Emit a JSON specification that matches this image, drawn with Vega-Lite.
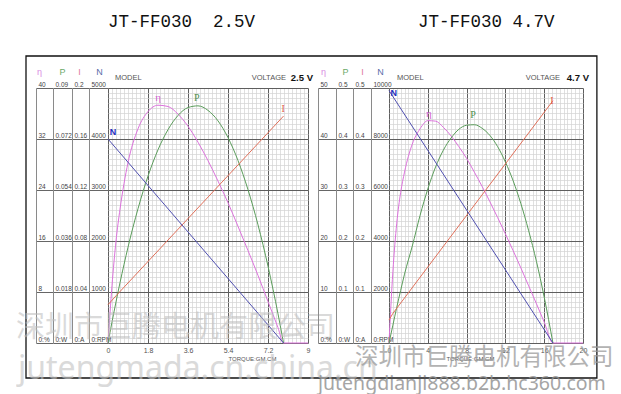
{
 "$schema": "https://vega.github.io/schema/vega-lite/v6.json",
 "background": "white",
 "padding": {"left": 16, "top": 12, "right": 0, "bottom": 0},
 "bounds": "flush",
 "spacing": 81,
 "config": {"view": {"stroke": null}, "font": "Liberation Sans"},
 "datasets": {
  "p1": [
   {"s":"eta","T":0,"v":0},{"s":"eta","T":0.18,"v":9},{"s":"eta","T":0.36,"v":16},{"s":"eta","T":0.54,"v":21},{"s":"eta","T":0.72,"v":25},{"s":"eta","T":0.9,"v":28.3},{"s":"eta","T":1.35,"v":33.6},{"s":"eta","T":1.8,"v":36.3},{"s":"eta","T":2.25,"v":37.3},{"s":"eta","T":2.7,"v":37.1},{"s":"eta","T":3.15,"v":35.9},{"s":"eta","T":3.6,"v":34},{"s":"eta","T":4.05,"v":31.5},{"s":"eta","T":4.5,"v":28.6},{"s":"eta","T":4.95,"v":25.4},{"s":"eta","T":5.4,"v":22},{"s":"eta","T":5.85,"v":18.3},{"s":"eta","T":6.3,"v":14.5},{"s":"eta","T":6.75,"v":10.6},{"s":"eta","T":7.2,"v":6.5},{"s":"eta","T":7.65,"v":2.4},{"s":"eta","T":7.9,"v":0},{"s":"eta","T":9,"v":0},
   {"s":"P","T":0,"v":0},{"s":"P","T":0.18,"v":0.0074},{"s":"P","T":0.36,"v":0.0145},{"s":"P","T":0.54,"v":0.0213},{"s":"P","T":0.72,"v":0.0277},{"s":"P","T":0.9,"v":0.0338},{"s":"P","T":1.35,"v":0.0474},{"s":"P","T":1.8,"v":0.0589},{"s":"P","T":2.25,"v":0.0682},{"s":"P","T":2.7,"v":0.0753},{"s":"P","T":3.15,"v":0.0803},{"s":"P","T":3.6,"v":0.0831},{"s":"P","T":4.05,"v":0.0837},{"s":"P","T":4.5,"v":0.0821},{"s":"P","T":4.95,"v":0.0784},{"s":"P","T":5.4,"v":0.0725},{"s":"P","T":5.85,"v":0.0644},{"s":"P","T":6.3,"v":0.0541},{"s":"P","T":6.75,"v":0.0417},{"s":"P","T":7.2,"v":0.0271},{"s":"P","T":7.65,"v":0.0103},{"s":"P","T":7.9,"v":0},
   {"s":"I","T":0,"v":0.03},{"s":"I","T":0.36,"v":0.037},{"s":"I","T":7.9,"v":0.178},
   {"s":"N","T":0,"v":4000},{"s":"N","T":7.9,"v":0}
  ],
  "p2": [
   {"s":"eta","T":0,"v":0},{"s":"eta","T":0.4,"v":14},{"s":"eta","T":0.8,"v":23.5},{"s":"eta","T":1.2,"v":29.5},{"s":"eta","T":1.6,"v":33.5},{"s":"eta","T":2.4,"v":39},{"s":"eta","T":3.2,"v":42},{"s":"eta","T":4,"v":43.6},{"s":"eta","T":4.8,"v":43.5},{"s":"eta","T":5.6,"v":42.3},{"s":"eta","T":6.4,"v":40.6},{"s":"eta","T":7.2,"v":38.5},{"s":"eta","T":8,"v":36.2},{"s":"eta","T":8.8,"v":33.5},{"s":"eta","T":9.6,"v":30.7},{"s":"eta","T":10.4,"v":27.7},{"s":"eta","T":11.2,"v":24.6},{"s":"eta","T":12,"v":21.4},{"s":"eta","T":12.8,"v":18.1},{"s":"eta","T":13.6,"v":14.7},{"s":"eta","T":14.4,"v":11.2},{"s":"eta","T":15.2,"v":7.7},{"s":"eta","T":16,"v":4.1},{"s":"eta","T":16.9,"v":0},{"s":"eta","T":20,"v":0},
   {"s":"P","T":0,"v":0},{"s":"P","T":0.4,"v":0.035},{"s":"P","T":0.8,"v":0.07},{"s":"P","T":1.2,"v":0.103},{"s":"P","T":1.6,"v":0.135},{"s":"P","T":2.4,"v":0.19},{"s":"P","T":3.2,"v":0.25},{"s":"P","T":4,"v":0.302},{"s":"P","T":4.8,"v":0.345},{"s":"P","T":5.6,"v":0.378},{"s":"P","T":6.4,"v":0.402},{"s":"P","T":7.2,"v":0.419},{"s":"P","T":8,"v":0.427},{"s":"P","T":8.8,"v":0.428},{"s":"P","T":9.6,"v":0.421},{"s":"P","T":10.4,"v":0.407},{"s":"P","T":11.2,"v":0.385},{"s":"P","T":12,"v":0.355},{"s":"P","T":12.8,"v":0.318},{"s":"P","T":13.6,"v":0.273},{"s":"P","T":14.4,"v":0.22},{"s":"P","T":15.2,"v":0.16},{"s":"P","T":16,"v":0.09},{"s":"P","T":16.9,"v":0},
   {"s":"I","T":0,"v":0.045},{"s":"I","T":0.4,"v":0.058},{"s":"I","T":16.9,"v":0.4751},
   {"s":"N","T":0,"v":9900},{"s":"N","T":16.9,"v":0}
  ]
 },
 "hconcat": [
  {
   "width": 200, "height": 255,
   "layer": [
    {
     "data": {"values": [{}]},
     "mark": {"type": "rect", "fill": "white", "fillOpacity": 0, "stroke": "#111111", "strokeWidth": 1.3, "clip": false},
     "encoding": {
      "x": {"datum": -3.69, "type": "quantitative", "scale": {"domain": [0, 9], "nice": false, "zero": false},
       "axis": {"orient": "bottom", "values": [0,0.18,0.36,0.54,0.72,0.9,1.08,1.26,1.44,1.62,1.8,1.98,2.16,2.34,2.52,2.7,2.88,3.06,3.24,3.42,3.6,3.78,3.96,4.14,4.32,4.5,4.68,4.86,5.04,5.22,5.4,5.58,5.76,5.94,6.12,6.3,6.48,6.66,6.84,7.02,7.2,7.38,7.56,7.74,7.92,8.1,8.28,8.46,8.64,8.82,9],
        "grid": true, "gridColor": "#d2d2d2", "gridWidth": 0.7, "domain": false, "ticks": false, "labels": false, "title": null}},
      "x2": {"datum": 22.0},
      "y": {"datum": 45.02, "type": "quantitative", "scale": {"domain": [0, 40], "nice": false, "zero": false},
       "axis": {"orient": "left", "values": [0,0.8,1.6,2.4,3.2,4,4.8,5.6,6.4,7.2,8,8.8,9.6,10.4,11.2,12,12.8,13.6,14.4,15.2,16,16.8,17.6,18.4,19.2,20,20.8,21.6,22.4,23.2,24,24.8,25.6,26.4,27.2,28,28.8,29.6,30.4,31.2,32,32.8,33.6,34.4,35.2,36,36.8,37.6,38.4,39.2,40],
        "grid": true, "gridColor": "#d2d2d2", "gridWidth": 0.7, "domain": false, "ticks": false, "labels": false, "title": null}},
      "y2": {"datum": -5.49}
     }
    },
    {
     "data": {"values": [{}]},
     "mark": {"type": "text", "text": "MODEL", "align": "left", "baseline": "middle", "font": "Liberation Sans Narrow, Liberation Sans, sans-serif", "fontSize": 7.5, "color": "#555555", "clip": false},
     "encoding": {
      "x": {"datum": 0.315, "type": "quantitative", "scale": {"domain": [0, 9], "nice": false, "zero": false},
       "axis": {"orient": "bottom", "values": [0,1.8,3.6,5.4,7.2,9], "grid": true, "gridColor": "#5e5e5e", "gridWidth": 1, "domain": false, "ticks": false,
        "labelExpr": "toString(datum.value)", "labelFlush": false, "labelOverlap": false, "labelPadding": 3, "labelFontSize": 7, "labelColor": "#555555", "labelFont": "Liberation Sans Narrow, Liberation Sans, sans-serif",
        "title": "TORQUE:GM.CM", "titleFontSize": 6, "titleFontWeight": "normal", "titleColor": "#555555", "titleFont": "Liberation Sans Narrow, Liberation Sans, sans-serif", "titleX": 144, "titleY": 12, "titleAlign": "center", "titleBaseline": "top"}},
      "y": {"datum": 41.57, "type": "quantitative", "scale": {"domain": [0, 40], "nice": false, "zero": false},
       "axis": {"orient": "left", "values": [0,8,16,24,32,40], "grid": true, "gridColor": "#5e5e5e", "gridWidth": 1, "domain": false, "ticks": false, "labels": false, "title": null}}
     }
    },
    {
     "data": {"values": [{}]},
     "mark": {"type": "text", "text": "JT-FF030\u00a0\u00a02.5V", "align": "left", "baseline": "top", "font": "Liberation Mono", "fontSize": 17.5, "color": "#111111", "clip": false},
     "encoding": {"x": {"datum": 0, "type": "quantitative", "scale": {"domain": [0, 9], "nice": false, "zero": false}, "axis": null}, "y": {"datum": 51.76, "type": "quantitative", "scale": {"domain": [0, 40], "nice": false, "zero": false}, "axis": null}}
    },
    {
     "data": {"values": [{}]},
     "mark": {"type": "text", "text": "VOLTAGE", "align": "right", "baseline": "middle", "font": "Liberation Sans Narrow, Liberation Sans, sans-serif", "fontSize": 7.5, "color": "#555555", "clip": false},
     "encoding": {"x": {"datum": 8.01, "type": "quantitative", "scale": {"domain": [0, 9], "nice": false, "zero": false}, "axis": null}, "y": {"datum": 41.57, "type": "quantitative", "scale": {"domain": [0, 40], "nice": false, "zero": false}, "axis": null}}
    },
    {
     "data": {"values": [{}]},
     "mark": {"type": "text", "text": "2.5 V", "align": "right", "baseline": "middle", "font": "Liberation Sans", "fontWeight": "bold", "fontSize": 9.5, "color": "#111111", "clip": false},
     "encoding": {"x": {"datum": 9.225, "type": "quantitative", "scale": {"domain": [0, 9], "nice": false, "zero": false}, "axis": null}, "y": {"datum": 41.57, "type": "quantitative", "scale": {"domain": [0, 40], "nice": false, "zero": false}, "axis": null}}
    },
    {
     "data": {"name": "p1"}, "transform": [{"filter": "datum.s == 'eta'"}],
     "mark": {"type": "line", "color": "#dc72dc", "strokeWidth": 1, "interpolate": "monotone"},
     "encoding": {
      "x": {"field": "T", "type": "quantitative", "scale": {"domain": [0, 9], "nice": false, "zero": false}, "axis": null},
      "y": {"field": "v", "type": "quantitative", "scale": {"domain": [0, 40], "nice": false, "zero": false},
       "axis": {"orient": "left", "offset": 72, "values": [0,8,16,24,32,40], "grid": false, "domain": true, "domainColor": "#8a8a8a", "domainWidth": 1, "ticks": true, "tickSize": -17, "tickColor": "#666666", "tickWidth": 1, "labelAlign": "left", "labelBaseline": "bottom", "labelPadding": 15, "labelOffset": -0.5, "labelFontSize": 6.5, "labelColor": "#444444", "labelFont": "Liberation Sans Narrow, Liberation Sans, sans-serif", "labelExpr": "datum.value == 0 ? '0:%' : toString(datum.value)", "title": "η", "titleAngle": 0, "titleAlign": "center", "titleBaseline": "middle", "titleX": 3, "titleY": -17, "titleColor": "#d98ae3", "titleFontSize": 9, "titleFontWeight": "normal"}}
     }
    },
    {
     "data": {"values": [{}]},
     "mark": {"type": "text", "text": "η", "font": "Liberation Serif", "fontSize": 11, "color": "#d35fd3", "baseline": "middle", "clip": false},
     "encoding": {"x": {"datum": 2.25, "type": "quantitative", "scale": {"domain": [0, 9], "nice": false, "zero": false}, "axis": null}, "y": {"datum": 38.4, "type": "quantitative", "scale": {"domain": [0, 40], "nice": false, "zero": false}, "axis": null}}
    },
    {
     "data": {"name": "p1"}, "transform": [{"filter": "datum.s == 'P'"}],
     "mark": {"type": "line", "color": "#5a9c5a", "strokeWidth": 1, "interpolate": "monotone"},
     "encoding": {
      "x": {"field": "T", "type": "quantitative", "scale": {"domain": [0, 9], "nice": false, "zero": false}, "axis": null},
      "y": {"field": "v", "type": "quantitative", "scale": {"domain": [0, 0.09], "nice": false, "zero": false},
       "axis": {"orient": "left", "offset": 55, "values": [0,0.018,0.036,0.054,0.072,0.09], "grid": false, "domain": true, "domainColor": "#8a8a8a", "domainWidth": 1, "ticks": true, "tickSize": -19, "tickColor": "#666666", "tickWidth": 1, "labelAlign": "left", "labelBaseline": "bottom", "labelPadding": 17, "labelOffset": -0.5, "labelFontSize": 6.5, "labelColor": "#444444", "labelFont": "Liberation Sans Narrow, Liberation Sans, sans-serif", "labelExpr": "datum.value == 0 ? '0:W' : toString(datum.value)", "title": "P", "titleAngle": 0, "titleAlign": "center", "titleBaseline": "middle", "titleX": 9, "titleY": -17, "titleColor": "#6aaa6a", "titleFontSize": 9, "titleFontWeight": "normal"}}
     }
    },
    {
     "data": {"values": [{}]},
     "mark": {"type": "text", "text": "P", "font": "Liberation Serif", "fontSize": 10, "color": "#4f8f4f", "baseline": "middle", "clip": false},
     "encoding": {"x": {"datum": 4.0, "type": "quantitative", "scale": {"domain": [0, 9], "nice": false, "zero": false}, "axis": null}, "y": {"datum": 0.0865, "type": "quantitative", "scale": {"domain": [0, 0.09], "nice": false, "zero": false}, "axis": null}}
    },
    {
     "data": {"name": "p1"}, "transform": [{"filter": "datum.s == 'I'"}],
     "mark": {"type": "line", "color": "#e0705a", "strokeWidth": 1},
     "encoding": {
      "x": {"field": "T", "type": "quantitative", "scale": {"domain": [0, 9], "nice": false, "zero": false}, "axis": null},
      "y": {"field": "v", "type": "quantitative", "scale": {"domain": [0, 0.2], "nice": false, "zero": false},
       "axis": {"orient": "left", "offset": 36, "values": [0,0.04,0.08,0.12,0.16,0.2], "grid": false, "domain": true, "domainColor": "#8a8a8a", "domainWidth": 1, "ticks": true, "tickSize": -17, "tickColor": "#666666", "tickWidth": 1, "labelAlign": "left", "labelBaseline": "bottom", "labelPadding": 15, "labelOffset": -0.5, "labelFontSize": 6.5, "labelColor": "#444444", "labelFont": "Liberation Sans Narrow, Liberation Sans, sans-serif", "labelExpr": "datum.value == 0 ? '0:A' : toString(datum.value)", "title": "I", "titleAngle": 0, "titleAlign": "center", "titleBaseline": "middle", "titleX": 7, "titleY": -17, "titleColor": "#e07aa0", "titleFontSize": 9, "titleFontWeight": "normal"}}
     }
    },
    {
     "data": {"values": [{}]},
     "mark": {"type": "text", "text": "I", "font": "Liberation Serif", "fontSize": 10, "color": "#e0604a", "baseline": "middle", "clip": false},
     "encoding": {"x": {"datum": 7.88, "type": "quantitative", "scale": {"domain": [0, 9], "nice": false, "zero": false}, "axis": null}, "y": {"datum": 0.1835, "type": "quantitative", "scale": {"domain": [0, 0.2], "nice": false, "zero": false}, "axis": null}}
    },
    {
     "data": {"name": "p1"}, "transform": [{"filter": "datum.s == 'N'"}],
     "mark": {"type": "line", "color": "#5050b0", "strokeWidth": 1},
     "encoding": {
      "x": {"field": "T", "type": "quantitative", "scale": {"domain": [0, 9], "nice": false, "zero": false}, "axis": null},
      "y": {"field": "v", "type": "quantitative", "scale": {"domain": [0, 5000], "nice": false, "zero": false},
       "axis": {"orient": "left", "offset": 19, "values": [0,1000,2000,3000,4000,5000], "grid": false, "domain": true, "domainColor": "#8a8a8a", "domainWidth": 1, "ticks": true, "tickSize": -19, "tickColor": "#666666", "tickWidth": 1, "labelAlign": "left", "labelBaseline": "bottom", "labelPadding": 17, "labelOffset": -0.5, "labelFontSize": 6.5, "labelColor": "#444444", "labelFont": "Liberation Sans Narrow, Liberation Sans, sans-serif", "labelExpr": "datum.value == 0 ? '0:RPM' : toString(datum.value)", "title": "N", "titleAngle": 0, "titleAlign": "center", "titleBaseline": "middle", "titleX": 10, "titleY": -17, "titleColor": "#5a6aa8", "titleFontSize": 9, "titleFontWeight": "normal"}}
     }
    },
    {
     "data": {"values": [{}]},
     "mark": {"type": "text", "text": "N", "font": "Liberation Sans", "fontWeight": "bold", "fontSize": 9, "color": "#1f2fc0", "baseline": "middle", "clip": false},
     "encoding": {"x": {"datum": 0.23, "type": "quantitative", "scale": {"domain": [0, 9], "nice": false, "zero": false}, "axis": null}, "y": {"datum": 4137, "type": "quantitative", "scale": {"domain": [0, 5000], "nice": false, "zero": false}, "axis": null}}
    },
    {
     "data": {"values": [{}]},
     "mark": {"type": "text", "text": "深圳市巨腾电机有限公司", "align": "left", "baseline": "middle", "font": "Noto Sans CJK SC", "fontSize": 29, "color": "#bdbdbd", "opacity": 0.55, "clip": false},
     "encoding": {"x": {"datum": -4.14, "type": "quantitative", "scale": {"domain": [0, 9], "nice": false, "zero": false}, "axis": null}, "y": {"datum": 2.35, "type": "quantitative", "scale": {"domain": [0, 40], "nice": false, "zero": false}, "axis": null}}
    },
    {
     "data": {"values": [{}]},
     "mark": {"type": "text", "text": "jutengmada.cn.china.cn", "align": "left", "baseline": "alphabetic", "font": "Noto Sans", "fontSize": 32, "color": "#c2c2c2", "opacity": 0.6, "clip": false},
     "encoding": {"x": {"datum": -4.05, "type": "quantitative", "scale": {"domain": [0, 9], "nice": false, "zero": false}, "axis": null}, "y": {"datum": -5.65, "type": "quantitative", "scale": {"domain": [0, 40], "nice": false, "zero": false}, "axis": null}}
    }
   ],
   "resolve": {"scale": {"x": "independent", "y": "independent"}, "axis": {"x": "independent", "y": "independent"}}
  },
  {
   "width": 194, "height": 255,
   "layer": [
    {
     "data": {"values": [{}]},
     "mark": {"type": "text", "text": "JT-FF030\u00a04.7V", "align": "left", "baseline": "top", "font": "Liberation Mono", "fontSize": 17.5, "color": "#111111", "clip": false},
     "encoding": {
      "x": {"datum": 2.99, "type": "quantitative", "scale": {"domain": [0, 20], "nice": false, "zero": false},
       "axis": {"orient": "bottom", "values": [0,0.4,0.8,1.2,1.6,2,2.4,2.8,3.2,3.6,4,4.4,4.8,5.2,5.6,6,6.4,6.8,7.2,7.6,8,8.4,8.8,9.2,9.6,10,10.4,10.8,11.2,11.6,12,12.4,12.8,13.2,13.6,14,14.4,14.8,15.2,15.6,16,16.4,16.8,17.2,17.6,18,18.4,18.8,19.2,19.6,20],
        "grid": true, "gridColor": "#d2d2d2", "gridWidth": 0.7, "domain": false, "ticks": false, "labels": false, "title": null}},
      "y": {"datum": 64.71, "type": "quantitative", "scale": {"domain": [0, 50], "nice": false, "zero": false},
       "axis": {"orient": "left", "values": [0,1,2,3,4,5,6,7,8,9,10,11,12,13,14,15,16,17,18,19,20,21,22,23,24,25,26,27,28,29,30,31,32,33,34,35,36,37,38,39,40,41,42,43,44,45,46,47,48,49,50],
        "grid": true, "gridColor": "#d2d2d2", "gridWidth": 0.7, "domain": false, "ticks": false, "labels": false, "title": null}}
     }
    },
    {
     "data": {"values": [{}]},
     "mark": {"type": "text", "text": "MODEL", "align": "left", "baseline": "middle", "font": "Liberation Sans Narrow, Liberation Sans, sans-serif", "fontSize": 7.5, "color": "#555555", "clip": false},
     "encoding": {
      "x": {"datum": 0.825, "type": "quantitative", "scale": {"domain": [0, 20], "nice": false, "zero": false},
       "axis": {"orient": "bottom", "values": [0,4,8,12,16,20], "grid": true, "gridColor": "#5e5e5e", "gridWidth": 1, "domain": false, "ticks": false,
        "labelExpr": "toString(datum.value)", "labelFlush": false, "labelOverlap": false, "labelPadding": 3, "labelFontSize": 7, "labelColor": "#555555", "labelFont": "Liberation Sans Narrow, Liberation Sans, sans-serif",
        "title": "TORQUE:GM.CM", "titleFontSize": 6, "titleFontWeight": "normal", "titleColor": "#555555", "titleFont": "Liberation Sans Narrow, Liberation Sans, sans-serif", "titleX": 81, "titleY": 12, "titleAlign": "center", "titleBaseline": "top"}},
      "y": {"datum": 51.96, "type": "quantitative", "scale": {"domain": [0, 50], "nice": false, "zero": false},
       "axis": {"orient": "left", "values": [0,10,20,30,40,50], "grid": true, "gridColor": "#5e5e5e", "gridWidth": 1, "domain": false, "ticks": false, "labels": false, "title": null}}
     }
    },
    {
     "data": {"values": [{}]},
     "mark": {"type": "text", "text": "VOLTAGE", "align": "right", "baseline": "middle", "font": "Liberation Sans Narrow, Liberation Sans, sans-serif", "fontSize": 7.5, "color": "#555555", "clip": false},
     "encoding": {"x": {"datum": 17.63, "type": "quantitative", "scale": {"domain": [0, 20], "nice": false, "zero": false}, "axis": null}, "y": {"datum": 51.96, "type": "quantitative", "scale": {"domain": [0, 50], "nice": false, "zero": false}, "axis": null}}
    },
    {
     "data": {"values": [{}]},
     "mark": {"type": "text", "text": "4.7 V", "align": "right", "baseline": "middle", "font": "Liberation Sans", "fontWeight": "bold", "fontSize": 9.5, "color": "#111111", "clip": false},
     "encoding": {"x": {"datum": 20.62, "type": "quantitative", "scale": {"domain": [0, 20], "nice": false, "zero": false}, "axis": null}, "y": {"datum": 51.96, "type": "quantitative", "scale": {"domain": [0, 50], "nice": false, "zero": false}, "axis": null}}
    },
    {
     "data": {"name": "p2"}, "transform": [{"filter": "datum.s == 'eta'"}],
     "mark": {"type": "line", "color": "#dc72dc", "strokeWidth": 1, "interpolate": "monotone"},
     "encoding": {
      "x": {"field": "T", "type": "quantitative", "scale": {"domain": [0, 20], "nice": false, "zero": false}, "axis": null},
      "y": {"field": "v", "type": "quantitative", "scale": {"domain": [0, 50], "nice": false, "zero": false},
       "axis": {"orient": "left", "offset": 71, "values": [0,10,20,30,40,50], "grid": false, "domain": true, "domainColor": "#8a8a8a", "domainWidth": 1, "ticks": true, "tickSize": -18, "tickColor": "#666666", "tickWidth": 1, "labelAlign": "left", "labelBaseline": "bottom", "labelPadding": 16, "labelOffset": -0.5, "labelFontSize": 6.5, "labelColor": "#444444", "labelFont": "Liberation Sans Narrow, Liberation Sans, sans-serif", "labelExpr": "datum.value == 0 ? '0:%' : toString(datum.value)", "title": "η", "titleAngle": 0, "titleAlign": "center", "titleBaseline": "middle", "titleX": 5, "titleY": -17, "titleColor": "#d98ae3", "titleFontSize": 9, "titleFontWeight": "normal"}}
     }
    },
    {
     "data": {"values": [{}]},
     "mark": {"type": "text", "text": "η", "font": "Liberation Serif", "fontSize": 11, "color": "#d35fd3", "baseline": "middle", "clip": false},
     "encoding": {"x": {"datum": 4.1, "type": "quantitative", "scale": {"domain": [0, 20], "nice": false, "zero": false}, "axis": null}, "y": {"datum": 44.9, "type": "quantitative", "scale": {"domain": [0, 50], "nice": false, "zero": false}, "axis": null}}
    },
    {
     "data": {"name": "p2"}, "transform": [{"filter": "datum.s == 'P'"}],
     "mark": {"type": "line", "color": "#5a9c5a", "strokeWidth": 1, "interpolate": "monotone"},
     "encoding": {
      "x": {"field": "T", "type": "quantitative", "scale": {"domain": [0, 20], "nice": false, "zero": false}, "axis": null},
      "y": {"field": "v", "type": "quantitative", "scale": {"domain": [0, 0.5], "nice": false, "zero": false},
       "axis": {"orient": "left", "offset": 53, "values": [0,0.1,0.2,0.3,0.4,0.5], "grid": false, "domain": true, "domainColor": "#8a8a8a", "domainWidth": 1, "ticks": true, "tickSize": -17, "tickColor": "#666666", "tickWidth": 1, "labelAlign": "left", "labelBaseline": "bottom", "labelPadding": 15, "labelOffset": -0.5, "labelFontSize": 6.5, "labelColor": "#444444", "labelFont": "Liberation Sans Narrow, Liberation Sans, sans-serif", "labelExpr": "datum.value == 0 ? '0:W' : toString(datum.value)", "title": "P", "titleAngle": 0, "titleAlign": "center", "titleBaseline": "middle", "titleX": 9, "titleY": -17, "titleColor": "#6aaa6a", "titleFontSize": 9, "titleFontWeight": "normal"}}
     }
    },
    {
     "data": {"values": [{}]},
     "mark": {"type": "text", "text": "P", "font": "Liberation Serif", "fontSize": 10, "color": "#4f8f4f", "baseline": "middle", "clip": false},
     "encoding": {"x": {"datum": 8.66, "type": "quantitative", "scale": {"domain": [0, 20], "nice": false, "zero": false}, "axis": null}, "y": {"datum": 0.447, "type": "quantitative", "scale": {"domain": [0, 0.5], "nice": false, "zero": false}, "axis": null}}
    },
    {
     "data": {"name": "p2"}, "transform": [{"filter": "datum.s == 'I'"}],
     "mark": {"type": "line", "color": "#e0705a", "strokeWidth": 1},
     "encoding": {
      "x": {"field": "T", "type": "quantitative", "scale": {"domain": [0, 20], "nice": false, "zero": false}, "axis": null},
      "y": {"field": "v", "type": "quantitative", "scale": {"domain": [0, 0.5], "nice": false, "zero": false},
       "axis": {"orient": "left", "offset": 36, "values": [0,0.1,0.2,0.3,0.4,0.5], "grid": false, "domain": true, "domainColor": "#8a8a8a", "domainWidth": 1, "ticks": true, "tickSize": -18, "tickColor": "#666666", "tickWidth": 1, "labelAlign": "left", "labelBaseline": "bottom", "labelPadding": 16, "labelOffset": -0.5, "labelFontSize": 6.5, "labelColor": "#444444", "labelFont": "Liberation Sans Narrow, Liberation Sans, sans-serif", "labelExpr": "datum.value == 0 ? '0:A' : toString(datum.value)", "title": "I", "titleAngle": 0, "titleAlign": "center", "titleBaseline": "middle", "titleX": 9, "titleY": -17, "titleColor": "#e07aa0", "titleFontSize": 9, "titleFontWeight": "normal"}}
     }
    },
    {
     "data": {"values": [{}]},
     "mark": {"type": "text", "text": "I", "font": "Liberation Serif", "fontSize": 10, "color": "#e0604a", "baseline": "middle", "clip": false},
     "encoding": {"x": {"datum": 16.8, "type": "quantitative", "scale": {"domain": [0, 20], "nice": false, "zero": false}, "axis": null}, "y": {"datum": 0.4745, "type": "quantitative", "scale": {"domain": [0, 0.5], "nice": false, "zero": false}, "axis": null}}
    },
    {
     "data": {"name": "p2"}, "transform": [{"filter": "datum.s == 'N'"}],
     "mark": {"type": "line", "color": "#5050b0", "strokeWidth": 1},
     "encoding": {
      "x": {"field": "T", "type": "quantitative", "scale": {"domain": [0, 20], "nice": false, "zero": false}, "axis": null},
      "y": {"field": "v", "type": "quantitative", "scale": {"domain": [0, 10000], "nice": false, "zero": false},
       "axis": {"orient": "left", "offset": 18, "values": [0,2000,4000,6000,8000,10000], "grid": false, "domain": true, "domainColor": "#8a8a8a", "domainWidth": 1, "ticks": true, "tickSize": -18, "tickColor": "#666666", "tickWidth": 1, "labelAlign": "left", "labelBaseline": "bottom", "labelPadding": 16, "labelOffset": -0.5, "labelFontSize": 6.5, "labelColor": "#444444", "labelFont": "Liberation Sans Narrow, Liberation Sans, sans-serif", "labelExpr": "datum.value == 0 ? '0:RPM' : toString(datum.value)", "title": "N", "titleAngle": 0, "titleAlign": "center", "titleBaseline": "middle", "titleX": 9, "titleY": -17, "titleColor": "#5a6aa8", "titleFontSize": 9, "titleFontWeight": "normal"}}
     }
    },
    {
     "data": {"values": [{}]},
     "mark": {"type": "text", "text": "N", "font": "Liberation Sans", "fontWeight": "bold", "fontSize": 9, "color": "#1f2fc0", "baseline": "middle", "clip": false},
     "encoding": {"x": {"datum": 0.5, "type": "quantitative", "scale": {"domain": [0, 20], "nice": false, "zero": false}, "axis": null}, "y": {"datum": 9804, "type": "quantitative", "scale": {"domain": [0, 10000], "nice": false, "zero": false}, "axis": null}}
    },
    {
     "data": {"values": [{}]},
     "mark": {"type": "text", "text": "深圳市巨腾电机有限公司", "align": "left", "baseline": "middle", "font": "Noto Sans CJK SC", "fontSize": 23.5, "color": "#9a9a9a", "opacity": 0.75, "clip": false},
     "encoding": {"x": {"datum": -3.505, "type": "quantitative", "scale": {"domain": [0, 20], "nice": false, "zero": false}, "axis": null}, "y": {"datum": -3.0, "type": "quantitative", "scale": {"domain": [0, 50], "nice": false, "zero": false}, "axis": null}}
    },
    {
     "data": {"values": [{}]},
     "mark": {"type": "text", "text": "jutengdianji888.b2b.hc360.com", "align": "left", "baseline": "alphabetic", "font": "Noto Sans", "fontSize": 19.5, "color": "#8f8f8f", "opacity": 0.8, "clip": false},
     "encoding": {"x": {"datum": -7.32, "type": "quantitative", "scale": {"domain": [0, 20], "nice": false, "zero": false}, "axis": null}, "y": {"datum": -9.2, "type": "quantitative", "scale": {"domain": [0, 50], "nice": false, "zero": false}, "axis": null}}
    }
   ],
   "resolve": {"scale": {"x": "independent", "y": "independent"}, "axis": {"x": "independent", "y": "independent"}}
  }
 ]
}
